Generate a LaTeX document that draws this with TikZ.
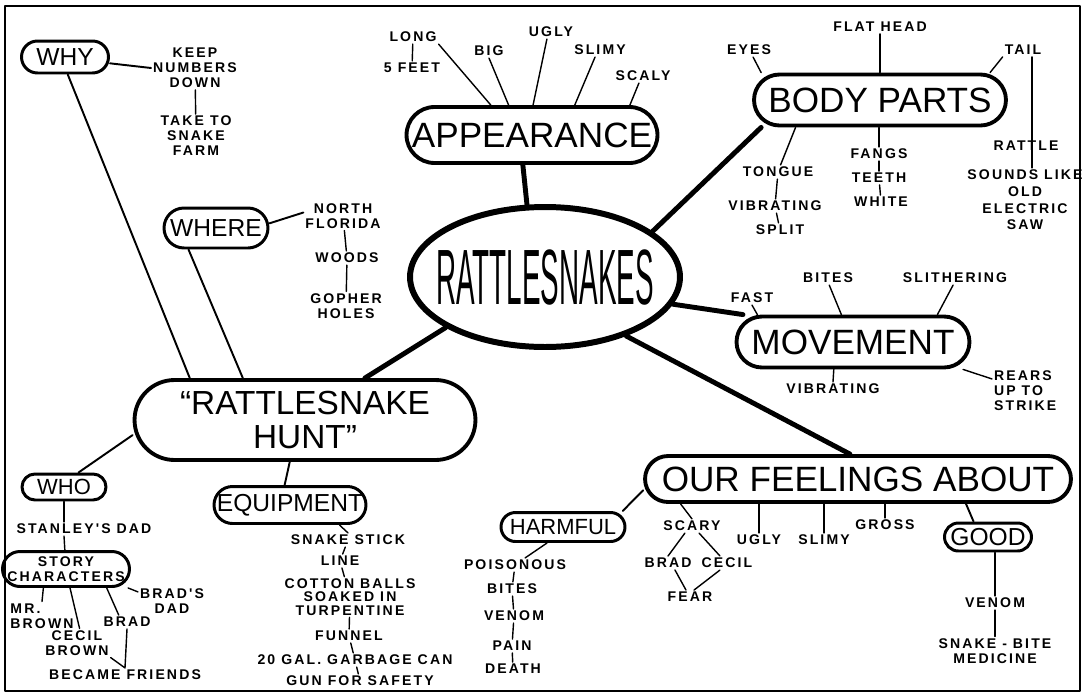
\documentclass[tikz,border=0pt]{standalone}
\usepackage{fontspec}
\usepackage{graphicx}
\setmainfont{Liberation Sans}
\newfontfamily\handfont[LetterSpace=15]{Liberation Sans}
\usetikzlibrary{shapes.geometric}

\begin{document}
\begin{tikzpicture}
        [x=0.02cm,y=-0.02cm,line cap=round,line join=round,
         hub/.style={ellipse,draw,line width=3.4pt,inner xsep=-1cm,inner ysep=0pt},
         topic/.style={rectangle,draw,line width=2.2pt,inner sep=0pt,font=\fontsize{20}{19}\selectfont},
         sub/.style={rectangle,draw,line width=1.7pt,inner sep=0pt,font=\fontsize{14}{14}\selectfont},
         leaf/.style={inner sep=1pt,align=center,font=\handfont\bfseries\fontsize{8}{8.5}\selectfont},
         trunk/.style={line width=2.8pt},
         branch/.style={line width=1.1pt},
         twig/.style={line width=0.8pt}]
        \useasboundingbox (0,0) rectangle (1086,697);
        \draw[line width=1.6pt] (5,6) rectangle (1080,691);

        %centre and main topics
        \node[hub,minimum width=5.4cm,minimum height=2.8cm] (RS) at (545,277) {\scalebox{0.66}[1.86]{\fontsize{24}{24}\selectfont RATTLESNAKES}};
        \node[topic,minimum width=5.02cm,minimum height=1.12cm,rounded corners=0.56cm] (APP)  at (532,135) {APPEARANCE};
        \node[topic,minimum width=5.04cm,minimum height=1.02cm,rounded corners=0.51cm] (BODY) at (880,100) {BODY PARTS};
        \node[topic,minimum width=4.66cm,minimum height=1.02cm,rounded corners=0.51cm] (MOV)  at (853,342) {MOVEMENT};
        \node[topic,minimum width=8.52cm,minimum height=0.92cm,rounded corners=0.46cm] (FEEL) at (858,479) {OUR FEELINGS ABOUT};
        \node[topic,minimum width=6.82cm,minimum height=1.6cm,rounded corners=0.8cm,align=center,
              font=\fontsize{19}{19}\selectfont] (HUNT) at (305,420) {“RATTLESNAKE\\HUNT”};

        %sub topics
        \node[sub,minimum width=1.74cm,minimum height=0.64cm,rounded corners=0.32cm] (WHY)   at (65,57)   {WHY};
        \node[sub,minimum width=2.08cm,minimum height=0.8cm,rounded corners=0.4cm]   (WHERE) at (216,228) {WHERE};
        \node[sub,minimum width=1.68cm,minimum height=0.52cm,rounded corners=0.26cm,
              font=\fontsize{12.5}{12.5}\selectfont] (WHO) at (64,487) {WHO};
        \node[sub,minimum width=3.04cm,minimum height=0.74cm,rounded corners=0.37cm] (EQ)    at (290,505) {EQUIPMENT};
        \node[sub,minimum width=2.48cm,minimum height=0.58cm,rounded corners=0.29cm,
              font=\fontsize{12.5}{12.5}\selectfont] (HARM) at (563,527) {HARMFUL};
        \node[sub,minimum width=1.74cm,minimum height=0.56cm,rounded corners=0.28cm] (GOOD)  at (988,537) {GOOD};
        \node[sub,minimum width=2.54cm,minimum height=0.7cm,rounded corners=0.35cm,align=center,
              font=\handfont\bfseries\fontsize{8}{8.5}\selectfont] (STORY) at (66,569) {STORY\\CHARACTERS};

        %appearance
        \node[leaf] (A1) at (413,37) {LONG};
        \node[leaf] (A2) at (412,68) {5 FEET};
        \node[leaf] (A3) at (489,51) {BIG};
        \node[leaf] (A4) at (551,32) {UGLY};
        \node[leaf] (A5) at (600,50) {SLIMY};
        \node[leaf] (A6) at (643,76) {SCALY};

        %body parts
        \node[leaf] (B1)  at (749,50)   {EYES};
        \node[leaf] (B2)  at (880,27)   {FLAT HEAD};
        \node[leaf] (B3)  at (1023,50)  {TAIL};
        \node[leaf] (B4)  at (1026,146) {RATTLE};
        \node[leaf,font=\handfont\bfseries\fontsize{8}{9.5}\selectfont] (B5) at (1025,200) {SOUNDS LIKE\\OLD\\ELECTRIC\\SAW};
        \node[leaf] (B6)  at (778,172)  {TONGUE};
        \node[leaf] (B7)  at (775,206)  {VIBRATING};
        \node[leaf] (B8)  at (780,230)  {SPLIT};
        \node[leaf] (B9)  at (879,154)  {FANGS};
        \node[leaf] (B10) at (879,178)  {TEETH};
        \node[leaf] (B11) at (881,202)  {WHITE};

        %movement
        \node[leaf] (M1) at (752,298) {FAST};
        \node[leaf] (M2) at (828,278) {BITES};
        \node[leaf] (M3) at (955,278) {SLITHERING};
        \node[leaf] (M4) at (833,389) {VIBRATING};
        \node[leaf,align=left,anchor=west] (M5) at (992,391) {REARS\\UP TO\\STRIKE};

        %feelings
        \node[leaf] (F1) at (692,526) {SCARY};
        \node[leaf] (F2) at (668,563) {BRAD};
        \node[leaf] (F3) at (727,563) {CECIL};
        \node[leaf] (F4) at (690,597) {FEAR};
        \node[leaf] (F5) at (759,540) {UGLY};
        \node[leaf] (F6) at (824,540) {SLIMY};
        \node[leaf] (F7) at (885,525) {GROSS};
        \node[leaf] (H1) at (515,565) {POISONOUS};
        \node[leaf] (H2) at (512,589) {BITES};
        \node[leaf] (H3) at (514,616) {VENOM};
        \node[leaf] (H4) at (512,646) {PAIN};
        \node[leaf] (H5) at (513,669) {DEATH};
        \node[leaf] (G1) at (995,603) {VENOM};
        \node[leaf] (G2) at (995,651) {SNAKE - BITE\\MEDICINE};

        %hunt
        \node[leaf] (K1)  at (195,68)  {KEEP\\NUMBERS\\DOWN};
        \node[leaf] (K2)  at (196,136) {TAKE TO\\SNAKE\\FARM};
        \node[leaf] (WH1) at (343,216) {NORTH\\FLORIDA};
        \node[leaf] (WH2) at (347,258) {WOODS};
        \node[leaf] (WH3) at (346,306) {GOPHER\\HOLES};
        \node[leaf] (W1)  at (84,529)  {STANLEY'S DAD};
        \node[leaf,align=left] (S1) at (42,616) {MR.\\BROWN};
        \node[leaf] (S2)  at (77,643)  {CECIL\\BROWN};
        \node[leaf] (S3)  at (127,622) {BRAD};
        \node[leaf] (S4)  at (172,601) {BRAD'S\\DAD};
        \node[leaf] (S5)  at (125,675) {BECAME FRIENDS};
        \node[leaf] (E1)  at (348,540) {SNAKE STICK};
        \node[leaf] (E2)  at (340,561) {LINE};
        \node[leaf,font=\handfont\bfseries\fontsize{8}{7.5}\selectfont] (E3) at (350,597) {COTTON BALLS\\SOAKED IN\\TURPENTINE};
        \node[leaf] (E4)  at (349,636) {FUNNEL};
        \node[leaf] (E5)  at (355,660) {20 GAL. GARBAGE CAN};
        \node[leaf] (E6)  at (360,681) {GUN FOR SAFETY};

        \draw[trunk]
        (APP.-107)  edge (RS.104)
        (RS.23)     edge (BODY.193)
        (RS.-12)    edge (MOV.166)
        (RS.-36)    edge (FEEL.108)
        (RS.-153)   edge (HUNT.35);

        \draw[branch]
        (WHY.-81)   edge (HUNT.160)
        (WHERE.-142) edge (HUNT.146)
        (HUNT.-175) edge (WHO.45)
        (HUNT.-110) edge (EQ.105)
        (FEEL.-177) edge (HARM.15)
        (FEEL.-13)  edge (GOOD.133)
        (WHY.-8)    edge (K1.west)
        (WHERE.5)   edge (WH1.175);

        \draw[twig]
        (A1.south east) edge (APP.144)
        (A1)        edge (A2)
        (A3.south)  edge (APP.128)
        (A4.-120)   edge (APP.88)
        (A5.-125)   edge (APP.35)
        (A6.-120)   edge (APP.17)
        (B1.-60)    edge (BODY.167)
        (B2.south)  edge (B2.south |- BODY.north)
        (B3.south west) edge (BODY.14)
        (B3.-38)    edge (B3.-38 |- B5.north)
        (BODY.198)  edge (B6.70)
        (B6) edge (B7)  (B7) edge (B8)
        (B9 |- BODY.south) edge (B9)
        (B9) edge (B10)  (B10) edge (B11)
        (M1.south)  edge (MOV.164)
        (M2.-80)    edge (MOV.113)
        (M3.-105)   edge (MOV.18)
        (MOV.-125)  edge (M4.north)
        (MOV.-14)   edge (M5.160)
        (FEEL.-172) edge (F1.north)
        (F1.-135)   edge (F2.north)
        (F1.-45)    edge (F3.135)
        (F2.-45)    edge (F4.120)
        (F3.-135)   edge (F4.60)
        (F5.north)  edge (F5.north |- FEEL.south)
        (F6.north)  edge (F6.north |- FEEL.south)
        (F7.north)  edge (F7.north |- FEEL.south)
        (HARM.-135) edge (H1.35)
        (H1) edge (H2)  (H2) edge (H3)  (H3) edge (H4)  (H4) edge (H5)
        (G1 |- GOOD.south) edge (G1)
        (G1) edge (G2)
        (K1) edge (K2)
        (WH1) edge (WH2)  (WH2) edge (WH3)
        (WHO) edge (WHO |- W1.north)
        (WHO |- W1.south) edge (STORY)
        (STORY.-140) edge (S1.north)
        (STORY.-78) edge (S2.80)
        (STORY.-25) edge (S3.140)
        (STORY.-17) edge (S4.165)
        (EQ.-22)    edge (E1.north)
        (E1) edge (E2)  (E2) edge (E3)  (E3) edge (E4)  (E4) edge (E5)  (E5) edge (E6);

        \draw[twig] (S2.south east) -- (S5.north) -- (S3.south);
    \end{tikzpicture}
\end{document}
